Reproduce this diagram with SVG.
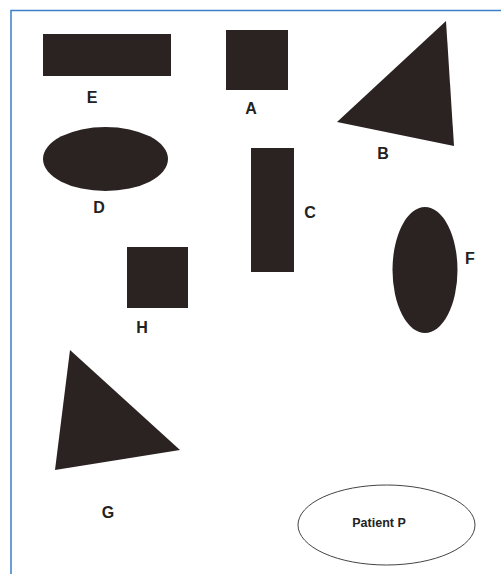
<svg xmlns="http://www.w3.org/2000/svg" width="501" height="574" viewBox="0 0 501 574">
<style>
.shape{fill:#2b2322;}
.lbl{font-family:"Liberation Sans",Arial,sans-serif;font-weight:bold;font-size:16px;fill:#222;text-anchor:middle;}
.frame{fill:none;stroke:#3b7fc6;stroke-width:1.5;}
</style>
<rect width="501" height="574" fill="#fff"/>
<path class="frame" d="M11,574 V10.5 H501"/>
<g id="E"><rect class="shape" x="43" y="34" width="128" height="42"/><text class="lbl" x="92" y="103">E</text></g>
<g id="A"><rect class="shape" x="226" y="30" width="62" height="60"/><text class="lbl" x="251" y="114">A</text></g>
<g id="B"><polygon class="shape" points="446,21 337,122 454,146"/><text class="lbl" x="383" y="159">B</text></g>
<g id="D"><ellipse class="shape" cx="105.5" cy="159" rx="62.5" ry="32"/><text class="lbl" x="99" y="213">D</text></g>
<g id="C"><rect class="shape" x="251" y="148" width="43" height="124"/><text class="lbl" x="310" y="218">C</text></g>
<g id="F"><ellipse class="shape" cx="425" cy="270" rx="32.5" ry="63"/><text class="lbl" x="470" y="264">F</text></g>
<g id="H"><rect class="shape" x="127" y="247" width="61" height="61"/><text class="lbl" x="142" y="333">H</text></g>
<g id="G"><polygon class="shape" points="70,350 180,450 55,470"/><text class="lbl" x="108" y="518">G</text></g>
<g id="P"><ellipse cx="386.5" cy="525" rx="88.5" ry="40" fill="#fff" stroke="#444" stroke-width="1"/><text x="379" y="527" font-family="'Liberation Sans',Arial,sans-serif" font-weight="bold" font-size="12.5" fill="#222" text-anchor="middle">Patient P</text></g>
<g id="connectors"></g>
</svg>
